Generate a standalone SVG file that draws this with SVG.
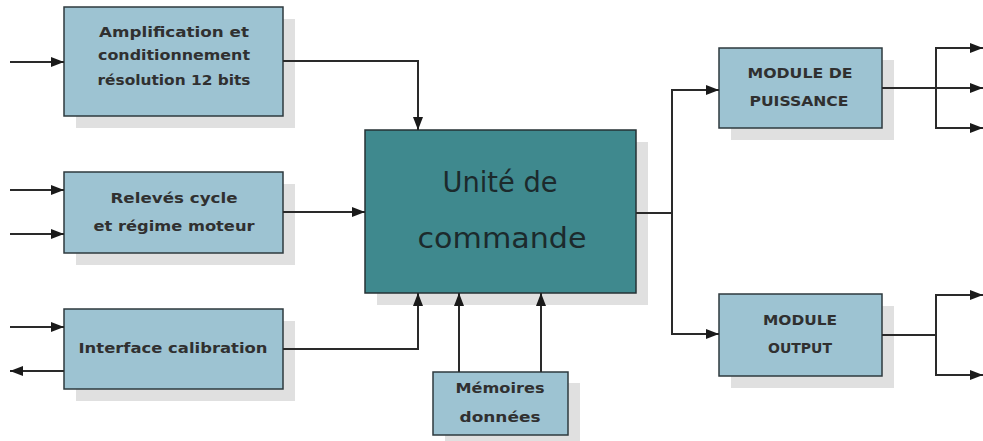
<svg xmlns="http://www.w3.org/2000/svg" width="983" height="441" viewBox="0 0 983 441">
<defs>
<marker id="ah" markerUnits="userSpaceOnUse" markerWidth="14" markerHeight="11" refX="13" refY="5.5" orient="auto">
<path d="M0,0.5 L13,5.5 L0,10.5 z" fill="#1a1a1a"/>
</marker>
<style>
.box{fill:#9dc3d2;stroke:#2e3a3e;stroke-width:1.5}
.core{fill:#3f898e;stroke:#263234;stroke-width:1.5}
.sh{fill:#e0e0e0}
.t{font-family:"DejaVu Sans","Liberation Sans",sans-serif;font-size:14px;font-weight:bold;fill:#303030;text-anchor:middle}
.tc{font-family:"DejaVu Sans","Liberation Sans",sans-serif;font-size:28px;fill:#1c2a2c;text-anchor:middle}
.c{fill:none;stroke:#2a2a2a;stroke-width:2}
.a{marker-end:url(#ah)}
</style>
</defs>
<rect width="983" height="441" fill="#ffffff"/>

<g id="ampli">
<rect class="sh" x="76" y="19" width="219" height="109"/>
<rect class="box" x="64" y="7" width="219" height="109"/>
<text class="t" x="174" y="37" textLength="150" lengthAdjust="spacingAndGlyphs">Amplification et</text>
<text class="t" x="174" y="60" textLength="152" lengthAdjust="spacingAndGlyphs">conditionnement</text>
<text class="t" x="174" y="85" textLength="153" lengthAdjust="spacingAndGlyphs">résolution 12 bits</text>
</g>

<g id="releves">
<rect class="sh" x="76" y="184" width="219" height="81"/>
<rect class="box" x="64" y="172" width="219" height="81"/>
<text class="t" x="174" y="203" textLength="127" lengthAdjust="spacingAndGlyphs">Relevés cycle</text>
<text class="t" x="174" y="231" textLength="161" lengthAdjust="spacingAndGlyphs">et régime moteur</text>
</g>

<g id="interface">
<rect class="sh" x="76" y="321" width="219" height="80"/>
<rect class="box" x="64" y="309" width="219" height="80"/>
<text class="t" x="173" y="353" textLength="189" lengthAdjust="spacingAndGlyphs">Interface calibration</text>
</g>

<g id="unite">
<rect class="sh" x="377" y="142" width="271" height="163"/>
<rect class="core" x="365" y="130" width="271" height="163"/>
<text class="tc" x="500" y="192" textLength="115" lengthAdjust="spacingAndGlyphs">Unité de</text>
<text class="tc" x="502" y="248" textLength="169" lengthAdjust="spacingAndGlyphs">commande</text>
</g>

<g id="memoires">
<rect class="sh" x="445" y="383" width="135" height="63"/>
<rect class="box" x="433" y="372" width="135" height="63"/>
<text class="t" x="500" y="393" textLength="89" lengthAdjust="spacingAndGlyphs">Mémoires</text>
<text class="t" x="500" y="422" textLength="81" lengthAdjust="spacingAndGlyphs">données</text>
</g>

<g id="puissance">
<rect class="sh" x="731" y="60" width="163" height="80"/>
<rect class="box" x="719" y="48" width="163" height="80"/>
<text class="t" x="800" y="78" textLength="105" lengthAdjust="spacingAndGlyphs">MODULE DE</text>
<text class="t" x="799" y="106" textLength="99" lengthAdjust="spacingAndGlyphs">PUISSANCE</text>
</g>

<g id="output">
<rect class="sh" x="731" y="306" width="163" height="82"/>
<rect class="box" x="719" y="294" width="163" height="82"/>
<text class="t" x="800" y="325" textLength="74" lengthAdjust="spacingAndGlyphs">MODULE</text>
<text class="t" x="800" y="353" textLength="64" lengthAdjust="spacingAndGlyphs">OUTPUT</text>
</g>

<g id="connectors">
<path class="c a" d="M10,62 H64"/>
<path class="c a" d="M283,61 H418 V130"/>
<path class="c a" d="M10,190 H64"/>
<path class="c a" d="M10,234 H64"/>
<path class="c a" d="M283,212 H365"/>
<path class="c a" d="M10,327 H64"/>
<path class="c a" d="M64,371 H10"/>
<path class="c a" d="M283,349 H418 V293"/>
<path class="c a" d="M459,372 V293"/>
<path class="c a" d="M541,372 V293"/>
<path class="c a" d="M636,213 H672 V90 H719"/>
<path class="c a" d="M672,213 V334 H719"/>
<path class="c" d="M882,88 H936"/>
<path class="c" d="M936,48 V128"/>
<path class="c a" d="M935,48 H983"/>
<path class="c a" d="M936,88 H983"/>
<path class="c a" d="M935,128 H983"/>
<path class="c" d="M882,335 H936"/>
<path class="c" d="M936,295 V375"/>
<path class="c a" d="M935,295 H983"/>
<path class="c a" d="M935,375 H983"/>
</g>
</svg>
